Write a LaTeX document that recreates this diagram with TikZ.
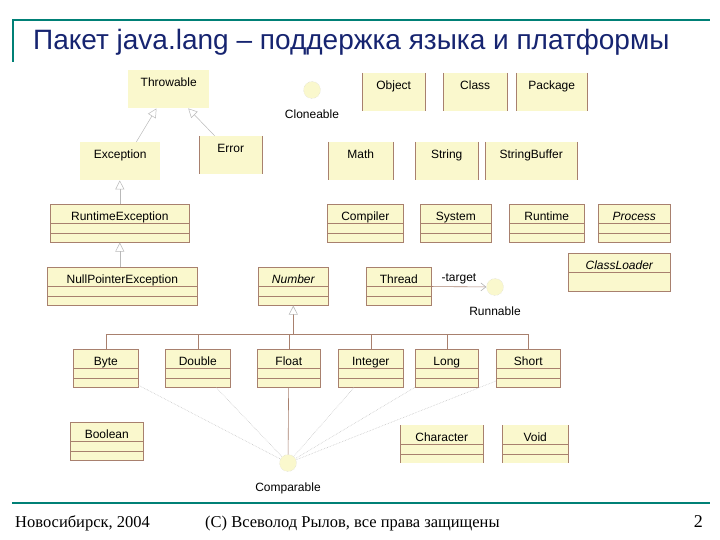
\documentclass[tikz,border=0pt]{standalone}
\usepackage{fontspec}
\setmainfont{Liberation Serif}
\setsansfont{Liberation Sans}
\usetikzlibrary{positioning, arrows.meta, calc}
\definecolor{clsfill}{RGB}{250,248,205}
\definecolor{edgebrown}{RGB}{168,128,110}
\definecolor{frameteal}{RGB}{0,128,118}
\definecolor{titleblue}{RGB}{22,36,112}

\begin{document}
\begin{tikzpicture}[
  x=1pt, y=-1pt,
  every node/.style={font=\sffamily\fontsize{12}{14}\selectfont},
  cls/.style      = {anchor=north west, fill=clsfill, inner xsep=2pt, inner ysep=5pt, text height=11pt, text depth=17pt},
  plain/.style    = {cls},
  sided/.style    = {cls},
  boxed/.style    = {cls, draw=edgebrown, line width=0.6pt},
  abstract/.style = {font=\sffamily\itshape\fontsize{12}{14}\selectfont},
  iface/.style    = {circle, fill=clsfill, draw=gray!35, densely dotted, minimum size=17pt, inner sep=0pt},
  ilbl/.style     = {inner sep=1pt},
  edge/.style     = {draw=edgebrown, line width=0.6pt},
  gen/.style      = {draw=gray!55, line width=0.5pt, -{Triangle[open, length=9pt, width=9pt]}},
  assoc/.style    = {draw=edgebrown, line width=0.6pt},
  real/.style     = {draw=gray!45, densely dotted, line width=0.6pt},
  frame/.style    = {draw=frameteal, line width=2pt},
  title/.style    = {font=\sffamily\fontsize{28}{31}\selectfont, text=titleblue, inner sep=0pt},
  footer/.style   = {font=\rmfamily\fontsize{16.5}{18}\selectfont, inner sep=0pt},
]
  \useasboundingbox (0,0) rectangle (720,540);

  % slide frame and title
  \draw[frame] (12,20) -- (710,20);
  \draw[frame] (13,20) -- (13,62);
  \draw[frame, line width=2.5pt] (12,503) -- (710,503);
  \node[title, anchor=base west] (title) at (33,50) {Пакет java.lang – поддержка языка и платформы};

  % exceptions
  \node[plain, minimum width=81pt]  (throwable) at (128,70)  {Throwable};
  \node[plain, minimum width=80pt]  (exception) at (80,142)  {Exception};
  \node[sided, minimum width=63pt]  (error)     at (199,136) {Error};
  \node[boxed, minimum width=139pt] (rtexc)     at (50,204)  {RuntimeException};
  \node[boxed, minimum width=150pt] (npe)       at (47,267)  {NullPointerException};

  % core classes
  \node[iface] (cloneable) at (312,90) {};
  \node[ilbl, below=10pt of cloneable] (cloneablelbl) {Cloneable};
  \node[sided, minimum width=63pt]  (object)   at (362,73)  {Object};
  \node[sided, minimum width=64pt]  (class)    at (443,73)  {Class};
  \node[sided, minimum width=71pt]  (package)  at (516,73)  {Package};
  \node[sided, minimum width=65pt]  (math)     at (328,142) {Math};
  \node[sided, minimum width=63pt]  (string)   at (415,142) {String};
  \node[sided, minimum width=92pt]  (strbuf)   at (485,142) {StringBuffer};
  \node[boxed, minimum width=76pt]  (compiler) at (327,204) {Compiler};
  \node[boxed, minimum width=71pt]  (system)   at (420,204) {System};
  \node[boxed, minimum width=75pt]  (runtime)  at (509,204) {Runtime};
  \node[boxed, abstract, minimum width=72pt]  (process) at (598,204) {Process};
  \node[boxed, abstract, minimum width=102pt] (loader)  at (568,253) {ClassLoader};
  \node[boxed, abstract, minimum width=70pt]  (number)  at (258,267) {Number};
  \node[boxed, minimum width=65pt]  (thread)   at (366,267) {Thread};
  \node[iface] (runnable) at (495,287) {};
  \node[ilbl, below=10pt of runnable] (runnablelbl) {Runnable};

  % wrappers
  \foreach \n/\x/\w/\t in {byte/73/65/Byte, double/165/65/Double, float/257/63/Float,
                          integer/338/65/Integer, long/415/63/Long, short/496/64/Short}
     \node[boxed, minimum width=\w pt] (\n) at (\x,349) {\t};
  \node[boxed, minimum width=73pt]  (boolean)   at (70,422)  {Boolean};
  \node[sided, minimum width=83pt]  (character) at (400,425) {Character};
  \node[sided, minimum width=66pt]  (void)      at (502,425) {Void};
  \node[iface] (comparable) at (288,463) {};
  \node[ilbl, below=10pt of comparable] (comparablelbl) {Comparable};

  % compartments and side rules
  \foreach \c in {rtexc, npe, compiler, system, runtime, process, number, thread,
                  byte, double, float, integer, long, short, boolean, character, void}
     \draw[edge] (\c.west) -- (\c.east)
                 ($(\c.west)!.5!(\c.south west)$) -- ($(\c.east)!.5!(\c.south east)$);
  \draw[edge] (loader.west) -- (loader.east);
  \foreach \c in {error, object, class, package, math, string, strbuf, character, void}
     \draw[edge] (\c.north west) -- (\c.south west) (\c.north east) -- (\c.south east);

  % generalizations
  \draw[gen] ($(exception.north)!.4!(exception.north east)$) -- ($(throwable.south)!.3!(throwable.south west)$);
  \draw[gen] ($(error.north)!.5!(error.north west)$) -- ($(throwable.south)!.48!(throwable.south east)$);
  \draw[gen] (rtexc.north) -- (rtexc.north |- exception.south);
  \draw[gen] (npe.north -| rtexc.south) -- (rtexc.south);
  \coordinate (bar) at (0,334);
  \draw[assoc] (byte.north |- bar) -- (short.north |- bar);
  \foreach \c in {byte, double, float, integer, long, short}
     \draw[assoc] (\c.north) -- (\c.north |- bar);
  \draw[assoc, -{Triangle[open, length=9pt, width=9pt, color=gray!55]}] (number.south |- bar) -- (number.south);

  % associations
  \draw[assoc, -{Straight Barb[length=5pt, width=8pt, color=gray!60]}] (thread) -- (runnable)
     node[above=1pt, pos=0.5, inner sep=1pt] (target) {-target};
  \foreach \c in {byte, double, integer, long, short}
     \draw[real] (\c) -- (comparable);
  \draw[assoc] (float) -- (comparable);

  % footer
  \node[footer, anchor=base west] (city) at (15,527) {Новосибирск, 2004};
  \node[footer, anchor=base west] (copy) at (205,527) {(С) Всеволод Рылов, все права защищены};
  \node[footer, anchor=base east, font=\rmfamily\fontsize{18}{20}\selectfont] (page) at (703,527) {2};
\end{tikzpicture}
\end{document}
